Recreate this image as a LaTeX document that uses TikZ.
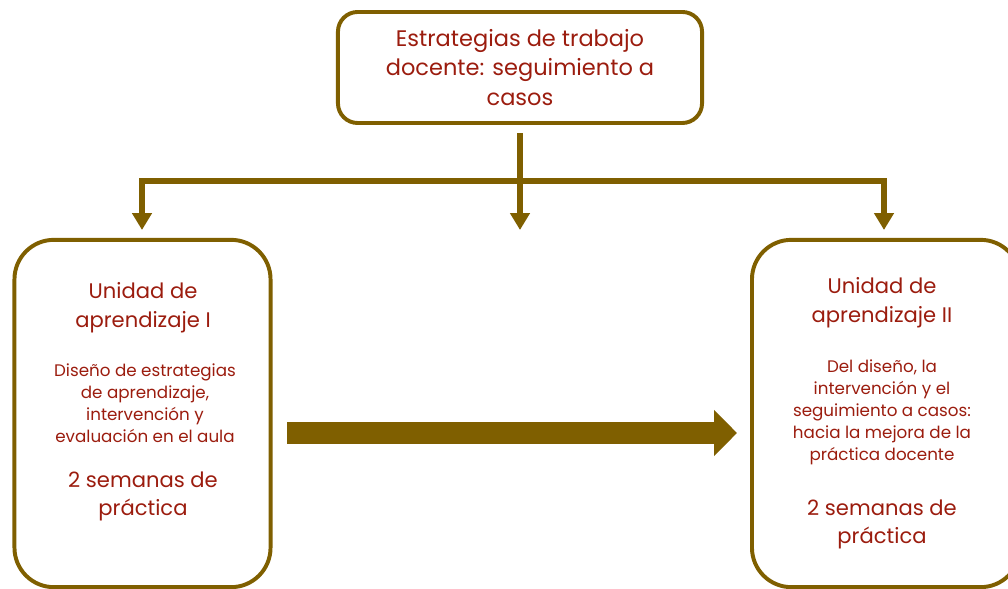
\documentclass[tikz,border=0pt]{standalone}
\usepackage{fontspec}
\setmainfont{Poppins}
\usetikzlibrary{arrows.meta}
\definecolor{olivebrown}{RGB}{127,95,0}
\definecolor{darkred}{RGB}{155,28,14}

\begin{document}
\begin{tikzpicture}[x=0.025cm, y=-0.025cm,
  box/.style={draw=olivebrown, line width=2.8pt, rounded corners=14pt},
  unitbox/.style={box, rounded corners=28pt, minimum height=8.68cm},
  txt/.style={text=darkred, align=center, inner sep=0pt},
  big/.style={font=\fontsize{16}{21.3}\selectfont},
  mid/.style={font=\fontsize{15}{20.5}\selectfont},
  small/.style={font=\fontsize{11.9}{15.6}\selectfont},
  link/.style={draw=olivebrown, line width=4.2pt},
  branchtip/.tip={Triangle[length=12pt,width=13.5pt]}]
\useasboundingbox (0,0) rectangle (1008,589);
% top box
\node[box, txt, big, minimum width=9.1cm, minimum height=2.775cm] (top) at (520,67.5)
  {Estrategias de trabajo\\docente: seguimiento a\\casos};
% units
\node[unitbox, minimum width=6.4cm] (u1) at (142.5,413.5) {};
\node[unitbox, minimum width=6.7cm] (u2) at (886,413.5) {};
\node[txt, mid] (u1title) at (143,307.5) {Unidad de\\aprendizaje I};
\node[txt, small] (u1desc) at (145,403.5) {Diseño de estrategias\\de aprendizaje,\\intervención y\\evaluación en el aula};
\node[txt, mid] (u1weeks) at (143,496.5) {2 semanas de\\práctica};
\node[txt, mid] (u2title) at (882,303) {Unidad de\\aprendizaje II};
\node[txt, small] (u2desc) at (882,412) {Del diseño, la\\intervención y el\\seguimiento a casos:\\hacia la mejora de la\\práctica docente};
\node[txt, mid] (u2weeks) at (882,524.5) {2 semanas de\\práctica};
% connectors
\coordinate (lcorner) at (142,181);
\coordinate (rcorner) at (884,181);
\coordinate (ltip) at (142,230);
\coordinate (mtip) at (520,230);
\coordinate (rtip) at (884,230);
\path[link, branchtip-branchtip] (ltip) -- (lcorner) -- (rcorner) -- (rtip);
\path[link, -branchtip, shorten <=6pt] (top) -- (mtip);
% big arrow
\coordinate (flowstart) at (287,433);
\coordinate (flowend) at (737,433);
\path[draw=olivebrown, line width=15.6pt,
  -{Triangle[length=16.3pt,width=31.9pt]}] (flowstart) -- (flowend);
\end{tikzpicture}
\end{document}
